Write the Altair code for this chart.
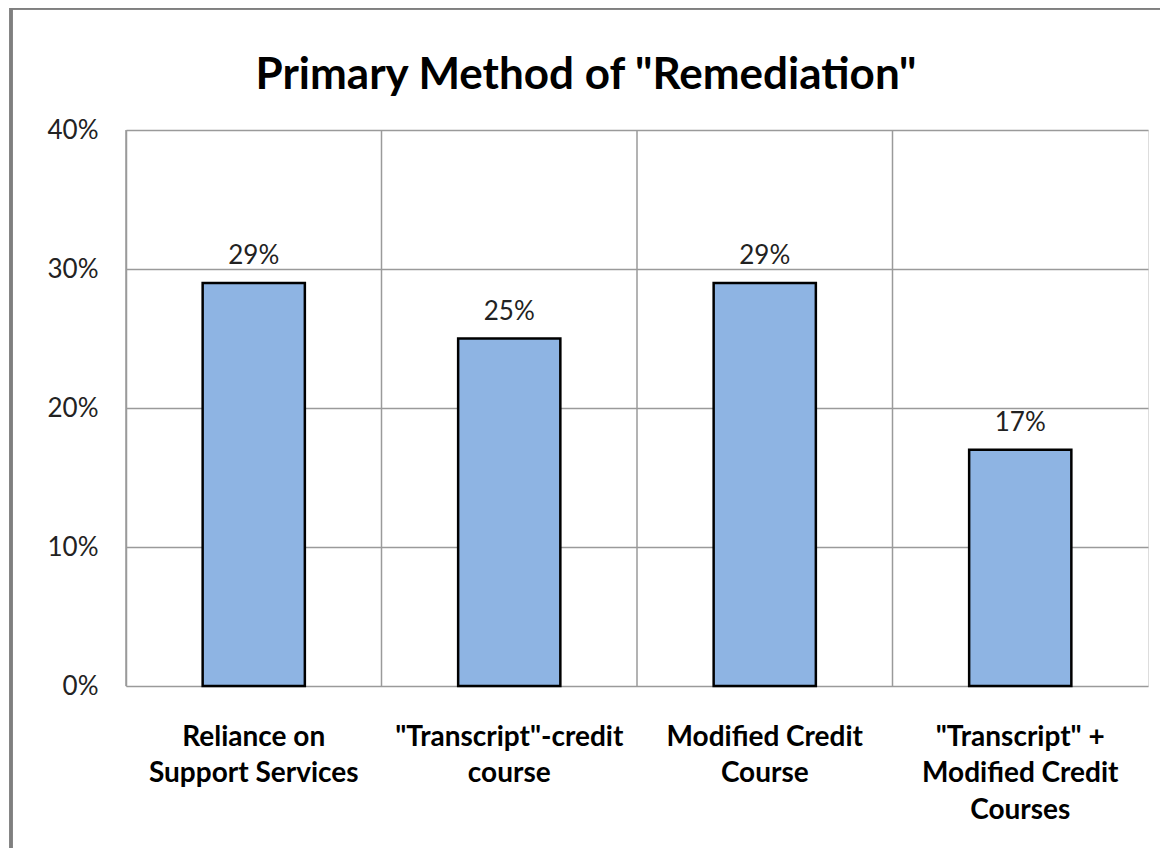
import altair as alt
import pandas as pd

categories = ["Reliance on|Support Services", "\"Transcript\"-credit|course",
              "Modified Credit|Course", "\"Transcript\" +|Modified Credit|Courses"]
values = [0.29, 0.25, 0.29, 0.17]
labels = ["29%", "25%", "29%", "17%"]

df = pd.DataFrame({"cat": categories, "val": values, "lab": labels})

FONT = "Lato"
GRID = "#9a9a9a"

xs = alt.Scale(domain=categories, paddingInner=0, paddingOuter=0)
ys = alt.Scale(domain=[0, 0.4])

xaxis = alt.Axis(title=None, labelAngle=0, labelFont=FONT, labelFontSize=28,
                 labelFontWeight="bold", labelColor="#000000",
                 labelExpr="split(datum.label, '|')", labelLineHeight=36.5,
                 labelPadding=37, labelBaseline="top", labelLimit=400,
                 ticks=False, domain=False, grid=False)

base = alt.Chart(df)

vgrid = base.mark_rule(color=GRID, strokeWidth=1.5).encode(
    x=alt.X("cat:N", scale=xs, sort=categories, bandPosition=0, axis=xaxis),
    y=alt.value(0), y2=alt.value(556),
)

bars = base.mark_bar(color="#8EB4E3", stroke="#000000", strokeWidth=2.5,
                     width=alt.RelativeBandSize(0.4)).encode(
    x=alt.X("cat:N", scale=xs, sort=categories, axis=xaxis),
    y=alt.Y("val:Q", scale=ys,
            axis=alt.Axis(title=None, format=".0%", values=[0, 0.1, 0.2, 0.3, 0.4],
                          labelFont=FONT, labelFontSize=26, labelColor="#222222",
                          labelPadding=28, ticks=False, domainColor=GRID,
                          gridColor=GRID, gridWidth=1.5, domainWidth=1.5)),
)

text = base.mark_text(font=FONT, fontSize=26, color="#222222", dy=-14,
                      baseline="bottom").encode(
    x=alt.X("cat:N", scale=xs, sort=categories, axis=xaxis),
    y=alt.Y("val:Q", scale=ys),
    text="lab:N",
)

frame_left = base.mark_rule(color="#7f7f7f", strokeWidth=3).encode(
    x=alt.value(-115), y=alt.value(-122), y2=alt.value(740))
frame_top = base.mark_rule(color="#7f7f7f", strokeWidth=3).encode(
    x=alt.value(-115), x2=alt.value(1040), y=alt.value(-122))

chart = alt.layer(vgrid, bars, text, frame_left, frame_top).properties(
    width=1022, height=556,
    title=alt.Title('Primary Method of "Remediation"', font=FONT, fontSize=44,
                    fontWeight="bold", color="#000000", anchor="middle",
                    frame="group", offset=32, dy=123, dx=-51),
    autosize=alt.AutoSizeParams(type="none"),
    padding={"left": 118, "top": 122, "right": 12, "bottom": 162},
).configure_view(stroke=GRID, strokeWidth=1.5).configure(background="white")

chart.save("out.html", embed_options={"renderer": "svg", "actions": False})
